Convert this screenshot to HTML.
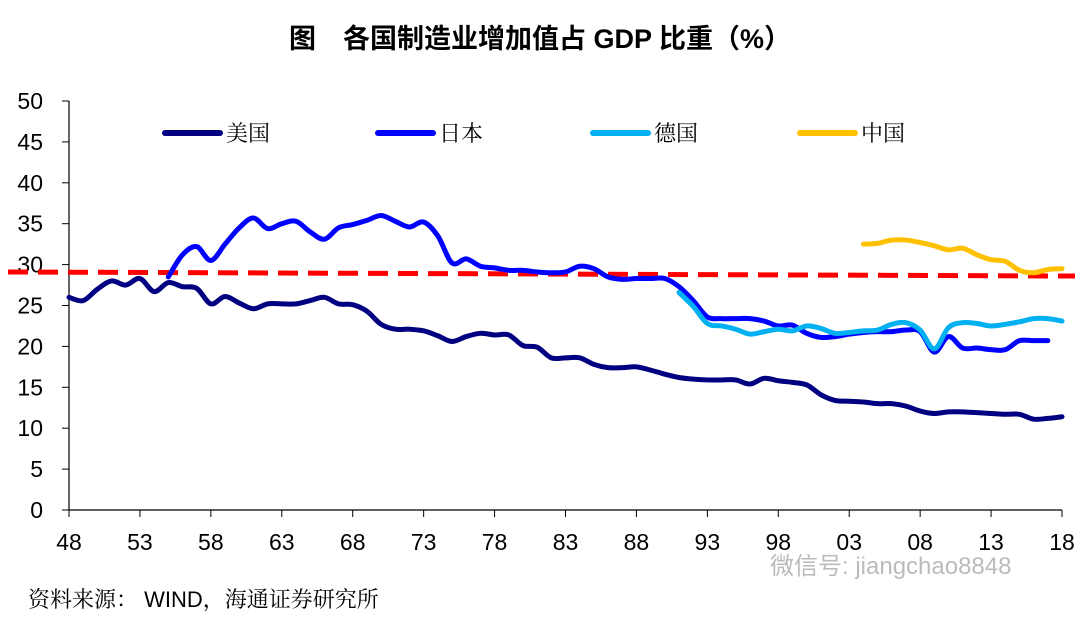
<!DOCTYPE html>
<html><head><meta charset="utf-8"><style>
body{margin:0;background:#fff;width:1080px;height:615px;overflow:hidden;font-family:"Liberation Sans","Noto Sans CJK SC",sans-serif;}
</style></head><body>
<svg id="c" width="1080" height="615" xmlns="http://www.w3.org/2000/svg">
<text x="540" y="48" text-anchor="middle" font-size="27" font-weight="bold" fill="#000" font-family="Liberation Sans,Noto Sans CJK SC,sans-serif">图　各国制造业增加值占 GDP 比重（%）</text>
<g id="axes"></g><g id="series"></g>
<text x="28" y="607" font-size="22" fill="#000" font-family="Liberation Sans,Noto Serif CJK SC,serif">资料来源： WIND，海通证券研究所</text>
<text x="770" y="574" font-size="24" fill="#bbb" font-family="Liberation Sans,Noto Sans CJK SC,sans-serif">微信号: jiangchao8848</text>
</svg>
<script>
const yTicks=[0,5,10,15,20,25,30,35,40,45,50];
const xTickYears=[1948,1953,1958,1963,1968,1973,1978,1983,1988,1993,1998,2003,2008,2013,2018];
const usYears=[];for(let y=1948;y<=2018;y++)usYears.push(y);
const usVals=[26,25.6,27,28,27.5,28.3,26.7,27.8,27.3,27.1,25.2,26.1,25.3,24.6,25.2,25.2,25.2,25.6,26,25.2,25.1,24.3,22.7,22.1,22.1,21.9,21.3,20.6,21.2,21.6,21.4,21.4,20.1,19.9,18.6,18.6,18.6,17.8,17.4,17.4,17.5,17.1,16.6,16.2,16.0,15.9,15.9,15.9,15.4,16.1,15.8,15.6,15.3,14.1,13.4,13.3,13.2,13.0,13.0,12.7,12.1,11.8,12.0,12.0,11.9,11.8,11.7,11.7,11.1,11.2,11.4];
const jpStart=1955;
const jpVals=[28.5,31.2,32.2,30.5,32.5,34.5,35.7,34.4,35.0,35.3,34.0,33.1,34.5,34.9,35.4,36.0,35.3,34.6,35.2,33.5,30.2,30.7,29.8,29.6,29.3,29.3,29.1,29.0,29.1,29.8,29.5,28.5,28.2,28.3,28.3,28.3,27.3,25.6,23.6,23.4,23.4,23.4,23.1,22.5,22.6,21.6,21.1,21.2,21.5,21.7,21.8,21.8,22.0,21.8,19.3,21.2,19.8,19.8,19.6,19.6,20.7,20.7,20.7];
const deStart=1991;
const deVals=[26.6,24.9,22.8,22.5,22.1,21.5,21.8,22.1,21.9,22.5,22.2,21.6,21.7,21.9,22.0,22.7,22.9,22.0,19.7,22.3,22.9,22.8,22.5,22.7,23.0,23.4,23.4,23.1];
const cnStart=2004;
const cnVals=[32.5,32.6,33.0,33.0,32.7,32.3,31.8,32.0,31.2,30.6,30.4,29.3,29.0,29.4,29.5];
const refLine=[29.1,28.6];
const ns="http://www.w3.org/2000/svg";
const X=yr=>69+(yr-1948)*(993/70);
const Y=v=>510-v*8.18;
function el(t,a,p){const e=document.createElementNS(ns,t);for(const k in a)e.setAttribute(k,a[k]);p.appendChild(e);return e;}
const ax=document.getElementById('axes'),sg=document.getElementById('series');
let e=el('line',{x1:69,y1:101,x2:69,y2:510,stroke:'#000','stroke-width':1.2},ax);

e=el('line',{x1:69,y1:510,x2:1062,y2:510,stroke:'#000','stroke-width':1.2},ax);

yTicks.forEach(v=>{el('line',{x1:62,y1:Y(v),x2:69,y2:Y(v),stroke:'#000'},ax);
 const t=el('text',{x:43,y:Y(v)+8,'text-anchor':'end','font-size':23,fill:'#000'},ax);t.textContent=v;
 });
xTickYears.forEach(yr=>{el('line',{x1:X(yr),y1:510,x2:X(yr),y2:517,stroke:'#000'},ax);
 const t=el('text',{x:X(yr),y:550,'text-anchor':'middle','font-size':23,fill:'#000'},ax);t.textContent=String(yr).slice(2);
 });
e=el('line',{x1:8,y1:Y(refLine[0]),x2:1075,y2:Y(refLine[1]),stroke:'#f00','stroke-width':5,'stroke-dasharray':'20 10'},sg);

function smooth(pts){let d=`M${pts[0][0]},${pts[0][1]}`;for(let i=0;i<pts.length-1;i++){const p0=pts[i-1]||pts[i],p1=pts[i],p2=pts[i+1],p3=pts[i+2]||p2;
 d+=` C${p1[0]+(p2[0]-p0[0])/6},${p1[1]+(p2[1]-p0[1])/6} ${p2[0]-(p3[0]-p1[0])/6},${p2[1]-(p3[1]-p1[1])/6} ${p2[0]},${p2[1]}`;}return d;}
function series(start,vals,color,name){const pts=vals.map((v,i)=>[X(start+i),Y(v)]);
 const p=el('path',{d:smooth(pts),fill:'none',stroke:color,'stroke-width':5,'stroke-linecap':'round','stroke-linejoin':'round'},sg);
 }
series(1948,usVals,'#000080','series-usa');
series(jpStart,jpVals,'#0000ff','series-japan');
series(deStart,deVals,'#00b0f0','series-germany');
series(cnStart,cnVals,'#ffc000','series-china');
const legendNames=['美国','日本','德国','中国'],legendColors=['#000080','#0000ff','#00b0f0','#ffc000'],legendX=[165,378,593,800];
legendNames.forEach((n,i)=>{const g=el('g',{},sg);
 el('line',{x1:legendX[i],y1:133,x2:legendX[i]+55,y2:133,stroke:legendColors[i],'stroke-width':6,'stroke-linecap':'round'},g);
 const t=el('text',{x:legendX[i]+61,y:141,'font-size':22,fill:'#000','font-family':'Liberation Serif,Noto Serif CJK SC,serif'},g);t.textContent=n;});
</script>
</body></html>
